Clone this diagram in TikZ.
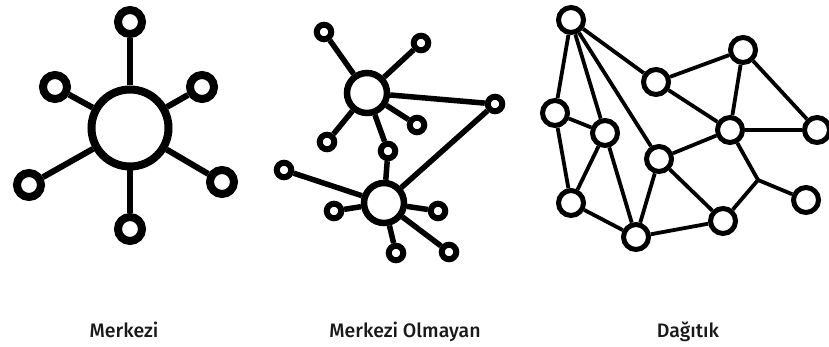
\documentclass[tikz,border=0pt]{standalone}
\usepackage{fontspec}
\setmainfont{Fira Sans}[BoldFont={Fira Sans Medium}]
\begin{document}
\begin{tikzpicture}[x=1pt,y=-1pt,
  hubA/.style={circle,draw,line width=8pt,minimum size=77pt,inner sep=0pt},
  leafA/.style={circle,draw,line width=8pt,minimum size=24pt,inner sep=0pt},
  linkA/.style={line width=6pt},
  hubB/.style={circle,draw,line width=6.5pt,minimum size=40pt,inner sep=0pt},
  leafB/.style={circle,draw,line width=6pt,minimum size=14.5pt,inner sep=0pt},
  linkB/.style={line width=5.5pt},
  nodeC/.style={circle,draw,line width=5pt,minimum size=25pt,inner sep=0pt},
  linkC/.style={line width=3.8pt},
  caption/.style={font=\fontsize{19.5}{22}\selectfont\bfseries,text=black!90,inner sep=0pt,anchor=base}]
\useasboundingbox (0,0) rectangle (829,347);

% Centralised: one hub with six leaves
\node[hubA] (c0) at (130,128) {};
\node[leafA] (c1) at (130,22) {};
\node[leafA] (c2) at (55,87) {};
\node[leafA] (c3) at (202,87) {};
\node[leafA] (c4) at (29,185) {};
\node[leafA] (c5) at (222,182) {};
\node[leafA] (c6) at (130,229) {};
\foreach \n in {c1,c2,c3,c4,c5,c6} \draw[linkA] (c0) -- (\n);

% Decentralised: two hubs joined through small nodes
\node[hubB] (u) at (367,93) {};
\node[hubB] (l) at (384,203) {};
\node[leafB] (d1) at (324,32) {};
\node[leafB] (d2) at (421,43) {};
\node[leafB] (d3) at (495,104) {};
\node[leafB] (d4) at (417,125) {};
\node[leafB] (d5) at (327,142) {};
\node[leafB] (d6) at (388,151) {};
\node[leafB] (d7) at (284,170) {};
\node[leafB] (d8) at (334,211) {};
\node[leafB] (d9) at (438,211) {};
\node[leafB] (d10) at (396,253) {};
\node[leafB] (d11) at (449,252) {};
\foreach \n in {d1,d2,d3,d4,d5,d6} \draw[linkB] (u) -- (\n);
\foreach \n in {d6,d7,d8,d9,d10,d11,d3} \draw[linkB] (l) -- (\n);

% Distributed: mesh of peers
\node[nodeC] (A) at (571,20) {};
\node[nodeC] (B) at (656,82) {};
\node[nodeC] (C) at (743,50) {};
\node[nodeC] (D) at (555,113) {};
\node[nodeC] (E) at (605,133) {};
\node[nodeC] (F) at (730,130) {};
\node[nodeC] (G) at (817,130) {};
\node[nodeC] (H) at (659,159) {};
\node[nodeC] (I) at (571,203) {};
\node[nodeC] (J) at (636,237) {};
\node[nodeC] (K) at (723,221) {};
\node[nodeC] (L) at (806,200) {};
\coordinate (M) at (758,180);
\foreach \a/\b in {A/D,A/E,A/H,A/B,D/E,D/I,E/I,E/J,I/J,H/J,H/F,H/K,J/K,B/C,B/F,C/F,C/G,F/G}
  \draw[linkC] (\a) -- (\b);
\draw[linkC,line join=round] (F) -- (M) -- (K);
\draw[linkC] (M) -- (L);

% Captions
\node[caption] (t1) at (124,337) {Merkezi};
\node[caption] (t2) at (405,337) {Merkezi Olmayan};
\node[caption] (t3) at (688,337) {Dağıtık};
\end{tikzpicture}
\end{document}
